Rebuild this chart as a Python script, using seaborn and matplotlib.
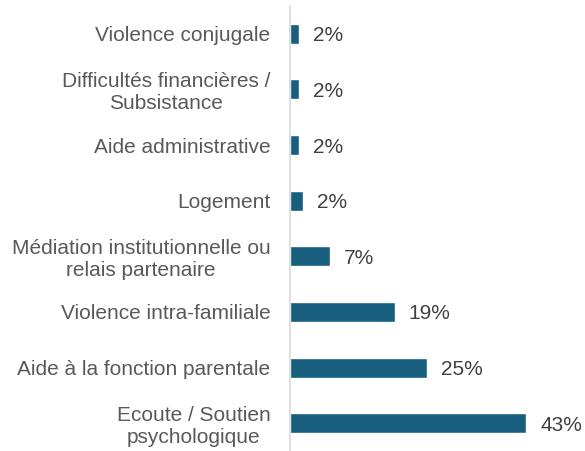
import pandas as pd
import seaborn as sns
import matplotlib.pyplot as plt

# data (share of requests, %)
categories = [
    "Violence conjugale",
    "Difficultés financières /\nSubsistance",
    "Aide administrative",
    "Logement",
    "Médiation institutionnelle ou\nrelais partenaire",
    "Violence intra-familiale",
    "Aide à la fonction parentale",
    "Ecoute / Soutien\npsychologique",
]
values = [1.6, 1.6, 1.6, 2.3, 7.2, 19.1, 24.9, 43.0]
labels = ["2%", "2%", "2%", "2%", "7%", "19%", "25%", "43%"]

df = pd.DataFrame({"categorie": categories, "part": values})

sns.set_theme(style="white")
plt.rcParams["font.family"] = ["Liberation Sans", "DejaVu Sans"]

fig = plt.figure(figsize=(5.85, 4.51), dpi=100)
ax = fig.add_axes([290 / 585, 0.0, 295 / 585, 1 - 6 / 451])

sns.barplot(data=df, y="categorie", x="part", color="#175e7f", width=0.36,
            saturation=1, ax=ax)

texts = ax.bar_label(ax.containers[0], labels=labels, padding=10, fontsize=15, color="#404040")
for t in texts:
    t.set_va("center_baseline")

ax.set_xlim(0, 53.7)
ax.set_ylim(7.5, -0.5)
ax.set_xlabel("")
ax.set_ylabel("")
ax.set_xticks([])
ax.tick_params(axis="y", length=0, pad=14, labelsize=15, labelcolor="#595959")
for lbl in ax.get_yticklabels():
    lbl.set_multialignment("center")

for side in ["top", "right", "bottom"]:
    ax.spines[side].set_visible(False)
ax.spines["left"].set_color("#d9d9d9")
ax.spines["left"].set_linewidth(1.2)

plt.savefig("out.png", dpi=100)
plt.close()
